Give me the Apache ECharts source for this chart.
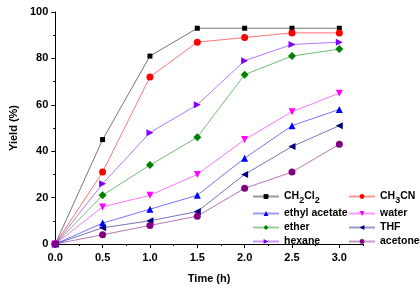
<!DOCTYPE html>
<html>
<head>
<meta charset="utf-8">
<script src="https://cdn.jsdelivr.net/npm/echarts@6/dist/echarts.min.js"></script>
<style>
  html, body { margin: 0; padding: 0; background: #fff; }
  #chart { width: 420px; height: 289px; }
</style>
</head>
<body>
<div id="chart"></div>
<script>
// time (h)
var times = [0, 0.5, 1.0, 1.5, 2.0, 2.5, 3.0];

// yield (%) per solvent
var ch2cl2 = [0, 45, 81, 93, 93, 93, 93];
var ch3cn = [0, 31, 72, 87, 89, 91, 91];
var ethylAcetate = [0, 9, 15, 21, 37, 51, 58];
var water = [0, 16, 21, 30, 45, 57, 65];
var ether = [0, 21, 34, 46, 73, 81, 84];
var thf = [0, 7, 10, 14, 30, 42, 51];
var hexane = [0, 26, 48, 60, 79, 86, 87];
var acetone = [0, 4, 8, 12, 24, 31, 43];

// axis ticks
var xMajorTicks = [0, 0.5, 1.0, 1.5, 2.0, 2.5, 3.0];
var xMinorTicks = [0.25, 0.75, 1.25, 1.75, 2.25, 2.75, 3.25];

var chart = echarts.init(document.getElementById('chart'));

var font = 'Liberation Sans, Arial, sans-serif';

function pairs(ys) {
  return ys.map(function (y, i) { return [times[i], y]; });
}

function mk(name, data, color, symbol, rotate, size) {
  return {
    name: name,
    type: 'line',
    data: pairs(data),
    symbol: symbol,
    symbolRotate: rotate,
    symbolSize: size,
    itemStyle: { color: color },
    lineStyle: { color: color, width: 1, opacity: 0.55 },
    emphasis: { disabled: true },
    animation: false
  };
}

// legend labels with subscripts
function legendName(name) {
  if (name === 'CH2Cl2') return '{n|CH}{s|2}{n|Cl}{s|2}';
  if (name === 'CH3CN') return '{n|CH}{s|3}{n|CN}';
  return '{n|' + name + '}';
}

var legendText = {
  fontFamily: font,
  fontWeight: 'bold',
  fontSize: 10.5,
  color: '#000',
  rich: {
    n: { fontFamily: font, fontWeight: 'bold', fontSize: 10.5, lineHeight: 13, color: '#000' },
    s: { fontFamily: font, fontWeight: 'bold', fontSize: 9, lineHeight: 13, padding: [8, 0, 0, 0], color: '#000' }
  }
};

function legendCol(names, left) {
  return {
    data: names,
    orient: 'vertical',
    left: left,
    top: 188,
    itemWidth: 26,
    itemHeight: 6,
    itemGap: 3,
    padding: 0,
    formatter: legendName,
    textStyle: legendText,
    lineStyle: { width: 2, opacity: 0.4 }
  };
}

var option = {
  backgroundColor: '#fff',
  grid: { left: 44, top: 12, right: 57, bottom: 40 },
  legend: [
    legendCol(['CH2Cl2', 'ethyl acetate', 'ether', 'hexane'], 252),
    legendCol(['CH3CN', 'water', 'THF', 'acetone'], 348)
  ],
  xAxis: [
    {
      type: 'value',
      min: 0,
      max: 3.25,
      name: 'Time (h)',
      nameLocation: 'middle',
      nameGap: 29,
      nameTextStyle: { fontFamily: font, fontWeight: 'bold', fontSize: 11, color: '#000' },
      axisLine: { show: true, onZero: false, lineStyle: { color: '#000', width: 1 } },
      axisTick: { show: true, length: 4, customValues: xMajorTicks, lineStyle: { color: '#000' } },
      axisLabel: {
        customValues: xMajorTicks,
        margin: 8,
        fontFamily: font,
        fontWeight: 'bold',
        fontSize: 11,
        color: '#000',
        formatter: function (v) { return v.toFixed(1); }
      },
      splitLine: { show: false }
    },
    {
      type: 'value',
      min: 0,
      max: 3.25,
      position: 'bottom',
      axisLine: { show: false },
      axisTick: { show: true, length: 2, customValues: xMinorTicks, lineStyle: { color: '#000' } },
      axisLabel: { show: false },
      splitLine: { show: false }
    }
  ],
  yAxis: {
    type: 'value',
    min: 0,
    max: 100,
    interval: 20,
    name: 'Yield (%)',
    nameLocation: 'middle',
    nameGap: 33,
    nameTextStyle: { fontFamily: font, fontWeight: 'bold', fontSize: 11, color: '#000' },
    axisLine: { show: true, lineStyle: { color: '#000', width: 1 } },
    axisTick: { show: true, length: 4, lineStyle: { color: '#000' } },
    minorTick: { show: true, splitNumber: 2, length: 2, lineStyle: { color: '#000' } },
    axisLabel: { margin: 7, fontFamily: font, fontWeight: 'bold', fontSize: 11, color: '#000' },
    splitLine: { show: false }
  },
  series: [
    mk('CH2Cl2', ch2cl2, '#000000', 'rect', 0, 5),
    mk('CH3CN', ch3cn, '#ff0000', 'circle', 0, 7),
    mk('ethyl acetate', ethylAcetate, '#0000ff', 'triangle', 0, 7),
    mk('water', water, '#ff00ff', 'triangle', 180, 7),
    mk('ether', ether, '#008000', 'diamond', 0, 8),
    mk('THF', thf, '#000080', 'triangle', 90, 7),
    mk('hexane', hexane, '#8000ff', 'triangle', -90, 7),
    mk('acetone', acetone, '#800080', 'circle', 0, 7)
  ]
};

chart.setOption(option);
window.addEventListener('resize', function () { chart.resize(); });
</script>
</body>
</html>
